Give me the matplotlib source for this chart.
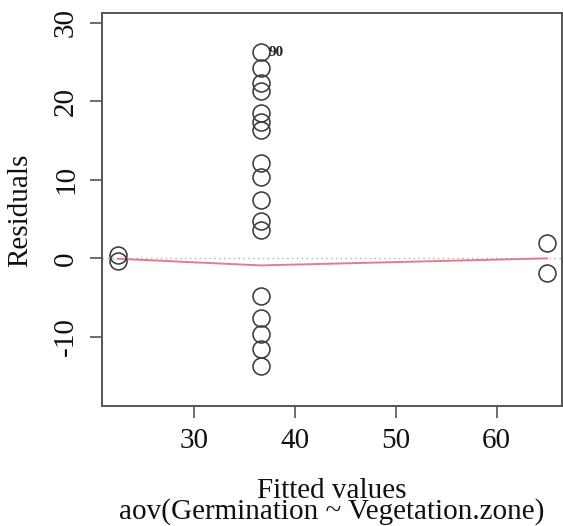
import matplotlib
matplotlib.use("Agg")
import matplotlib.pyplot as plt
import numpy as np

# Residuals vs fitted values for a one-way ANOVA model
fitted_left = [22.4, 22.4]
resid_left = [0.4, -0.4]

fitted_mid = [36.6] * 17
resid_mid = [26.3, 24.2, 22.3, 21.3, 18.5, 17.4, 16.3, 12.1, 10.4, 7.4,
             4.7, 3.6, -4.8, -7.6, -9.6, -11.6, -13.7]

fitted_right = [65.0, 65.0]
resid_right = [2.0, -1.9]

# lowess smoother evaluated at the distinct fitted values
smooth_x = [22.4, 36.6, 65.0]
smooth_y = [-0.05, -0.9, 0.0]

xticks = [30, 40, 50, 60]
yticks = [-10, 0, 10, 20, 30]

outlier_label = "90"
outlier_xy = (36.6, 26.3)

x_label = "Fitted values"
caption = "aov(Germination ~ Vegetation.zone)"

plt.rcParams["font.family"] = ["Liberation Serif", "DejaVu Serif"]
FS = 21

fig = plt.figure(figsize=(5.63, 5.26), dpi=100)
ax = fig.add_axes([102 / 563, 1 - 406 / 526, (562 - 102) / 563, (406 - 13) / 526])

fx = fitted_left + fitted_mid + fitted_right
ry = resid_left + resid_mid + resid_right

ax.axhline(0, color="#b0b0b0", lw=1.0, ls=(0, (1, 2.5)), zorder=1)
ax.plot(smooth_x, smooth_y, color="#E37C8C", lw=1.4, zorder=2)
ax.plot(fx, ry, ls="none", marker="o", ms=12.2, mfc="none",
        mec="#3c3c3c", mew=1.15, zorder=3)

ax.text(outlier_xy[0] + 0.8, outlier_xy[1] - 0.15, outlier_label, fontsize=11,
        fontweight="bold", ha="left", va="center", color="#222222")

ax.set_xlim(20.83, 66.5)
ax.set_ylim(-18.8, 31.24)
ax.set_xticks(xticks)
ax.set_yticks(yticks)
ax.set_xticklabels([str(t) for t in xticks])
ax.set_yticklabels([str(t) for t in yticks], rotation=90, va="center")

for s in ax.spines.values():
    s.set_color("#555555")
    s.set_linewidth(1.4)

ax.tick_params(axis="both", direction="out", length=8.6, width=1.2,
               color="#555555", labelsize=FS, labelcolor="#111111")
ax.tick_params(axis="x", pad=7)
ax.tick_params(axis="y", pad=8)

# x label and model caption stacked tightly as two lines of one text block
fig.text(332 / 563, 1 - 519 / 526, x_label + "\n" + caption, fontsize=FS,
         ha="center", va="baseline", multialignment="center",
         linespacing=0.72, color="#111111")
fig.text(20 / 563, 1 - 210 / 526, "Residuals", fontsize=FS, rotation=90,
         ha="center", va="center", color="#111111")

fig.savefig("out.png", dpi=100)
